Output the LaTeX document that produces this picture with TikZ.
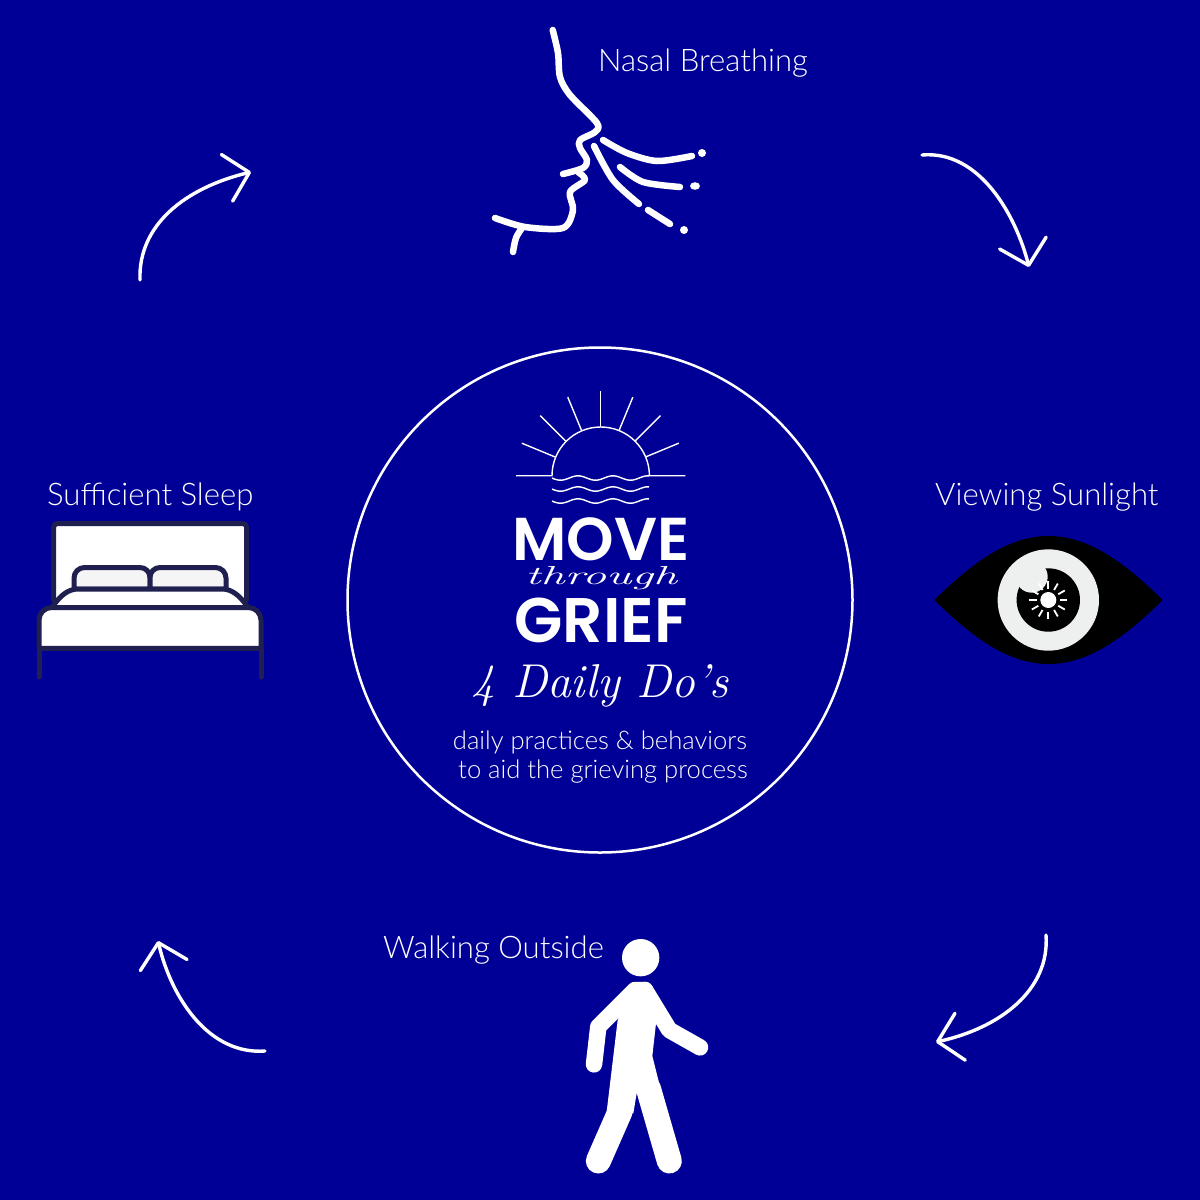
\documentclass[tikz,border=0pt]{standalone}
\usepackage{graphicx}
\usepackage{fontspec}
\setsansfont{Lato}[UprightFont=* Light]
\newfontfamily\logofont{Poppins}[UprightFont=* SemiBold]
\usetikzlibrary{arrows.meta,calc}
\definecolor{bgblue}{HTML}{000096}
\definecolor{bednavy}{HTML}{1F1F50}
\definecolor{eyegrey}{HTML}{EEEFEF}
\definecolor{pillowgrey}{HTML}{F5F5F5}
\tikzset{
	itemlabel/.style={text=white,inner sep=0pt,anchor=base west,font=\sffamily\fontsize{31.1}{36}\selectfont},
	caption/.style={text=white,inner sep=0pt,anchor=base,font=\sffamily\fontsize{25.6}{30}\selectfont},
	logotext/.style={text=white,inner sep=0pt,anchor=base},
	scripttext/.style={text=white,inner sep=0pt,anchor=base},
	cyclearrow/.style={draw=white,line width=3.4pt,line cap=round,-{Straight Barb[length=23pt,width=48pt,round]}},
	faceline/.style={draw=white,line width=6.5pt,line cap=round,line join=round},
	logoline/.style={draw=white,line width=1.4pt},
	bedline/.style={draw=bednavy,line width=5pt,line cap=round,line join=round},
	walkerlimb/.style={white,line cap=round,line join=round},
}
\begin{document}
\begin{tikzpicture}[x=1pt,y=-1pt]
		\fill[bgblue](0,0)rectangle(1200,1200);
		\useasboundingbox(0,0)rectangle(1200,1200);
		\def\PlotWave#1{
			\draw[logoline]plot[domain=552:649,samples=70,smooth]
				(\x,{#1-2.2*cos((\x-578)*10.3)});
		}
		\node[circle,draw=white,line width=2.5pt,minimum size=505pt,inner sep=0pt](hub)at(600,600){};

		% sun logo
		\coordinate(sun)at(600.3,475.7);
		\draw[logoline](sun)++(-84.3,0)--++(36,0)arc[start angle=180,end angle=360,radius=48.7]--++(36,0);
		\foreach \a in {22.5,45,...,157.5}{
			\draw[logoline]($(sun)+({49*cos(\a)},{-49*sin(\a)})$)--($(sun)+({85*cos(\a)},{-85*sin(\a)})$);
		}
		\PlotWave{478}
		\PlotWave{489}
		\PlotWave{501}
		\node[logotext,font=\logofont\fontsize{60.5}{70}\selectfont](move)at(601,560){MOVE};
		\node[scripttext,font=\rmfamily\itshape\fontsize{26}{30}\selectfont](through)at(601,584){\scalebox{1.85}[1]{through}};
		\node[logotext,font=\logofont\fontsize{63}{70}\selectfont](grief)at(601,642){GRIEF};
		\node[scripttext,font=\rmfamily\itshape\fontsize{47.5}{54}\selectfont](dailydos)at(600,697){4 Daily Do's};
		\node[caption](practices)at(600,749){daily practices \& behaviors};
		\node[caption](process)at(603,778){to aid the grieving process};

		% labels
		\node[itemlabel](nasal)at(598,71){Nasal Breathing};
		\node[itemlabel](sunlight)at(935,505){Viewing Sunlight};
		\node[itemlabel](walking)at(383,958){Walking Outside};
		\node[itemlabel](sleep)at(47,505){Sufficient Sleep};

		% arrows
		\coordinate(northwestA)at(140,280);
		\coordinate(northwestB)at(251,172);
		\coordinate(northeastA)at(922,155);
		\coordinate(northeastB)at(1029,267);
		\coordinate(southeastA)at(1046,935);
		\coordinate(southeastB)at(936,1042);
		\coordinate(southwestA)at(265,1051);
		\coordinate(southwestB)at(158,941);
		\draw[cyclearrow](northwestA)..controls(138,225)and(185,188)..(northwestB);
		\draw[cyclearrow](northeastA)..controls(980,150)and(1016,216)..(northeastB);
		\draw[cyclearrow](southeastA)..controls(1050,990)and(1000,1028)..(southeastB);
		\draw[cyclearrow](southwestA)..controls(210,1055)and(172,1000)..(southwestB);

		% face
		\draw[faceline]plot[smooth,tension=.5]coordinates{(552.7,30)(558,53)(560,77)(570,95)(597,123)(595,132)(580,140)(580,148)(587,160)(583,168)(563,174)};
		\draw[faceline]plot[smooth,tension=.5]coordinates{(578,172)(585,180)(570,192)(573,210)(563,228)(525,227)(495,218)};
		\draw[faceline]plot[smooth,tension=.6]coordinates{(522,228)(516,238)(513,252)};
		\draw[faceline]plot[smooth]coordinates{(603,140)(627,153)(657,161)(692,156)};
		\draw[faceline]plot[smooth]coordinates{(620,167)(643,182)(680,187)};
		\draw[faceline]plot[smooth]coordinates{(594,146)(613,180)(639,204)};
		\draw[faceline](648,210)--(670,224);
		\fill[white](702,153)circle(4);
		\fill[white](695,186)ellipse(5 and 3.8);
		\fill[white](684,230)circle(4);

		% eye
		\fill[black](934.3,600)..controls(975,560)and(1010,536)..(1048.5,536)
			..controls(1087,536)and(1122,560)..(1162.7,600)
			..controls(1122,640)and(1087,664)..(1048.5,664)
			..controls(1010,664)and(975,640)..cycle;
		\fill[eyegrey](1048.3,600)circle(50.7);
		\fill[black](1048.3,600)circle(31.7);
		\fill[eyegrey](1031.7,576.7)circle(16);
		\fill[white](1048.3,600)circle(8);
		\foreach \a in {0,30,...,330}{
			\draw[white,line width=1.8pt]($(1048.3,600)+({11.5*cos(\a)},{11.5*sin(\a)})$)--($(1048.3,600)+({19*cos(\a)},{19*sin(\a)})$);
		}

		% bed
		\draw[bedline,fill=white](53.7,600)--(53.7,527)arc[start angle=180,end angle=270,radius=3.5]--(243,523.5)arc[start angle=270,end angle=360,radius=3.5]--(246.5,600);
		\draw[bedline,fill=pillowgrey](74,589)--(74,578)arc[start angle=180,end angle=270,radius=10.5]--(140,567.5)arc[start angle=270,end angle=360,radius=10]--(150,589)--cycle;
		\draw[bedline,fill=pillowgrey](226,589)--(226,578)arc[start angle=0,end angle=-90,radius=10.5]--(160,567.5)arc[start angle=270,end angle=180,radius=10]--(150,589)--cycle;
		\draw[bedline,fill=white](53,606)..controls(60,596)and(68,589)..(78,589)--(222,589)..controls(232,589)and(240,596)..(247,606);
		\draw[bedline,fill=white](39,648.3)--(39,620)arc[start angle=180,end angle=270,radius=12.5]--(248.5,607.5)arc[start angle=270,end angle=360,radius=12.5]--(261,648.3)--cycle;
		\draw[bedline](39,648.3)--(39,677);
		\draw[bedline](261,648.3)--(261,677);

		% walker
		\begin{scope}[shift={(570,930)},scale=1/3]
			\fill[white](212,83)circle(56);
			\fill[white](143,270)--(178,180)--(242,180)--(258,280)--(247,378)--(270,470)--(200,490)--(190,550)--(110,545)--cycle;
			\draw[walkerlimb,line width=16.5pt](225,180)--(195,180)--(85,290)--(72,403);
			\draw[walkerlimb,line width=16.5pt](225,180)--(298,300)--(390,352);
			\draw[walkerlimb,line width=25pt](235,475)--(298,693);
			\draw[walkerlimb,line width=25pt](152,530)--(150,545)--(85,693);
		\end{scope}
	\end{tikzpicture}
\end{document}
